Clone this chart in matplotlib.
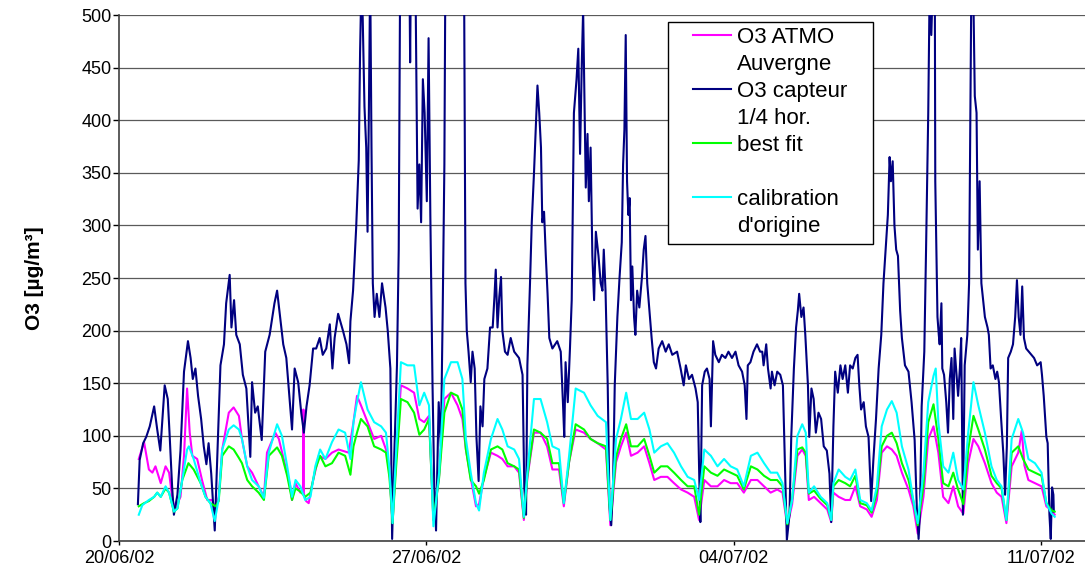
import numpy as np
import pandas as pd
import matplotlib
matplotlib.use('Agg')
import matplotlib.pyplot as plt
from matplotlib.lines import Line2D
from matplotlib.patches import Rectangle

plt.rcParams['font.family'] = ['Liberation Sans', 'DejaVu Sans']

# time in days since 20/06/02 00:00, values in ug/m3
t_atmo = [0.45, 0.57, 0.68, 0.76, 0.83, 0.95, 1.06, 1.14, 1.21, 1.27,
          1.40, 1.48, 1.55, 1.61, 1.67, 1.78, 1.89, 2.01, 2.12, 2.20,
          2.27, 2.35, 2.50, 2.61, 2.73, 2.80, 2.92, 3.03, 3.18, 3.30,
          3.37, 3.56, 3.64, 3.79, 3.90, 3.94, 4.02, 4.13, 4.19, 4.20,
          4.21, 4.26, 4.32, 4.39, 4.55, 4.70, 4.85, 5.00, 5.23, 5.34,
          5.42, 5.51, 5.66, 5.81, 5.97, 6.08, 6.16, 6.23, 6.31, 6.42,
          6.57, 6.72, 6.84, 6.95, 7.06, 7.16, 7.29, 7.41, 7.56, 7.71,
          7.82, 7.90, 8.01, 8.13, 8.20, 8.31, 8.47, 8.62, 8.73, 8.85,
          9.00, 9.11, 9.22, 9.30, 9.45, 9.60, 9.75, 9.87, 10.02, 10.13,
          10.25, 10.40, 10.59, 10.74, 10.90, 11.09, 11.19, 11.32, 11.43, 11.55,
          11.66, 11.81, 11.96, 12.08, 12.19, 12.34, 12.49, 12.64, 12.80, 12.95,
          13.10, 13.21, 13.33, 13.48, 13.63, 13.78, 13.93, 14.08, 14.23, 14.39,
          14.54, 14.69, 14.84, 14.99, 15.11, 15.22, 15.33, 15.45, 15.56, 15.64,
          15.71, 15.83, 15.98, 16.13, 16.22, 16.27, 16.39, 16.54, 16.65, 16.77,
          16.88, 17.03, 17.14, 17.26, 17.37, 17.49, 17.60, 17.71, 17.83, 17.98,
          18.09, 18.19, 18.32, 18.43, 18.55, 18.66, 18.77, 18.89, 19.00, 19.11,
          19.23, 19.34, 19.46, 19.57, 19.72, 19.87, 19.99, 20.10, 20.21, 20.33,
          20.48, 20.56, 20.62, 20.71, 20.86, 21.01, 21.12, 21.24, 21.31]
o3_atmo = [78, 94, 68, 65, 71, 55, 71, 65, 42, 30,
           42, 81, 145, 103, 81, 78, 58, 39, 39, 30,
           42, 87, 122, 127, 119, 97, 71, 65, 52, 42,
           84, 103, 97, 71, 52, 39, 55, 46, 48, 125,
           45, 38, 36, 52, 81, 78, 84, 87, 84, 113,
           138, 129, 113, 97, 100, 87, 65, 17, 80, 148,
           145, 141, 116, 113, 119, 20, 62, 135, 141, 129,
           116, 87, 60, 33, 35, 60, 84, 81, 78, 71,
           71, 65, 20, 60, 103, 103, 90, 68, 68, 33,
           75, 106, 103, 97, 93, 87, 15, 75, 90, 103,
           81, 84, 90, 74, 58, 61, 61, 55, 49, 46,
           42, 20, 58, 52, 52, 58, 55, 55, 46, 58,
           58, 52, 46, 49, 46, 14, 35, 81, 87, 81,
           39, 42, 36, 30, 18, 46, 42, 39, 39, 52,
           33, 30, 23, 39, 84, 90, 87, 81, 65, 49,
           33, 7, 42, 97, 109, 84, 42, 36, 52, 33,
           26, 74, 97, 90, 74, 55, 46, 42, 17, 71,
           84, 105, 72, 58, 55, 52, 33, 29, 25]

t_capteur = [0.43, 0.47, 0.55, 0.62, 0.70, 0.80, 0.87, 0.94, 1.04, 1.11,
             1.15, 1.21, 1.25, 1.33, 1.40, 1.48, 1.57, 1.63, 1.68, 1.74,
             1.80, 1.87, 1.93, 1.99, 2.04, 2.10, 2.18, 2.25, 2.31, 2.39,
             2.44, 2.52, 2.56, 2.62, 2.67, 2.75, 2.82, 2.90, 2.99, 3.03,
             3.10, 3.16, 3.25, 3.33, 3.43, 3.54, 3.60, 3.66, 3.74, 3.81,
             3.89, 3.94, 4.00, 4.08, 4.15, 4.21, 4.27, 4.34, 4.42, 4.49,
             4.57, 4.64, 4.72, 4.80, 4.86, 4.91, 4.99, 5.10, 5.18, 5.24,
             5.27, 5.33, 5.40, 5.46, 5.49, 5.52, 5.55, 5.59, 5.63, 5.66,
             5.69, 5.72, 5.75, 5.78, 5.82, 5.87, 5.93, 5.99, 6.07, 6.12,
             6.18, 6.22, 6.27, 6.33, 6.37, 6.40, 6.45, 6.54, 6.61, 6.63,
             6.65, 6.75, 6.80, 6.84, 6.88, 6.92, 6.96, 7.01, 7.05, 7.09,
             7.14, 7.18, 7.22, 7.28, 7.33, 7.37, 7.41, 7.43, 7.55, 7.70,
             7.86, 7.89, 7.92, 7.96, 8.01, 8.05, 8.10, 8.14, 8.19, 8.23,
             8.28, 8.32, 8.39, 8.45, 8.51, 8.55, 8.58, 8.62, 8.66, 8.70,
             8.73, 8.79, 8.85, 8.92, 9.00, 9.11, 9.19, 9.23, 9.27, 9.30,
             9.36, 9.40, 9.45, 9.49, 9.53, 9.57, 9.61, 9.64, 9.68, 9.72,
             9.76, 9.80, 9.87, 9.98, 10.06, 10.11, 10.14, 10.17, 10.22, 10.27,
             10.31, 10.36, 10.42, 10.46, 10.50, 10.54, 10.57, 10.60, 10.63, 10.67,
             10.70, 10.74, 10.78, 10.82, 10.86, 10.92, 10.97, 11.01, 11.04, 11.08,
             11.13, 11.17, 11.21, 11.25, 11.29, 11.35, 11.40, 11.45, 11.48, 11.51,
             11.54, 11.57, 11.60, 11.63, 11.66, 11.69, 11.73, 11.76, 11.80, 11.85,
             11.91, 11.95, 11.99, 12.03, 12.08, 12.13, 12.18, 12.23, 12.29, 12.37,
             12.45, 12.52, 12.60, 12.71, 12.79, 12.86, 12.91, 12.98, 13.05, 13.13,
             13.18, 13.22, 13.24, 13.28, 13.34, 13.39, 13.45, 13.48, 13.53, 13.58,
             13.66, 13.73, 13.81, 13.88, 13.96, 14.04, 14.11, 14.19, 14.25, 14.29,
             14.32, 14.38, 14.45, 14.53, 14.60, 14.65, 14.68, 14.74, 14.78, 14.84,
             14.87, 14.93, 14.99, 15.06, 15.12, 15.16, 15.19, 15.21, 15.27, 15.31,
             15.37, 15.42, 15.46, 15.49, 15.54, 15.59, 15.63, 15.69, 15.72, 15.77,
             15.82, 15.87, 15.93, 15.99, 16.05, 16.12, 16.18, 16.22, 16.27, 16.31,
             16.37, 16.43, 16.48, 16.54, 16.60, 16.65, 16.71, 16.77, 16.82, 16.86,
             16.90, 16.96, 17.01, 17.07, 17.13, 17.18, 17.24, 17.30, 17.36, 17.41,
             17.46, 17.51, 17.55, 17.58, 17.62, 17.66, 17.70, 17.74, 17.79, 17.83,
             17.90, 17.98, 18.05, 18.12, 18.17, 18.21, 18.24, 18.28, 18.34, 18.38,
             18.43, 18.46, 18.50, 18.54, 18.58, 18.59, 18.64, 18.67, 18.69, 18.73,
             18.75, 18.79, 18.84, 18.88, 18.92, 18.96, 19.00, 19.03, 19.07, 19.11,
             19.15, 19.18, 19.22, 19.26, 19.32, 19.36, 19.39, 19.41, 19.45, 19.49,
             19.53, 19.56, 19.60, 19.64, 19.68, 19.72, 19.78, 19.81, 19.85, 19.90,
             19.96, 20.00, 20.04, 20.09, 20.14, 20.18, 20.22, 20.25, 20.31, 20.36,
             20.41, 20.45, 20.49, 20.53, 20.57, 20.61, 20.66, 20.72, 20.78, 20.84,
             20.91, 20.99, 21.02, 21.06, 21.12, 21.15, 21.19, 21.22, 21.25, 21.28,
             21.29]
o3_capteur = [35, 77, 93, 99, 109, 128, 106, 86, 148, 135,
              103, 51, 25, 44, 86, 161, 190, 174, 154, 164,
              138, 116, 90, 73, 93, 64, 10, 96, 167, 187,
              226, 253, 203, 229, 196, 187, 158, 145, 80, 151,
              122, 128, 96, 180, 196, 226, 238, 216, 187, 174,
              132, 106, 164, 151, 122, 103, 128, 148, 183, 183,
              193, 177, 183, 206, 164, 193, 216, 200, 187, 169,
              209, 238, 297, 362, 465, 530, 497, 413, 374, 294,
              407, 540, 374, 245, 213, 235, 213, 245, 222, 200,
              164, 2, 83, 167, 277, 520, 600, 620, 560, 455,
              560, 540, 316, 358, 303, 439, 407, 323, 478, 310,
              148, 51, 10, 132, 90, 213, 358, 520, 650, 640,
              520, 245, 200, 180, 151, 180, 164, 99, 57, 128,
              109, 154, 164, 203, 203, 232, 258, 203, 232, 251,
              200, 180, 177, 193, 180, 174, 158, 51, 25, 167,
              245, 303, 349, 391, 433, 407, 374, 303, 313, 271,
              235, 193, 183, 190, 180, 132, 99, 170, 132, 183,
              229, 407, 439, 468, 368, 455, 505, 423, 336, 387,
              323, 374, 271, 229, 294, 271, 245, 238, 277, 238,
              148, 35, 15, 51, 148, 213, 251, 284, 358, 391,
              481, 342, 310, 326, 229, 261, 213, 196, 238, 222,
              251, 277, 290, 245, 219, 193, 170, 164, 183, 190,
              180, 187, 177, 180, 164, 148, 167, 154, 158, 145,
              132, 51, 18, 148, 161, 164, 154, 109, 190, 177,
              170, 177, 174, 180, 174, 180, 167, 161, 148, 116,
              167, 170, 180, 187, 180, 180, 167, 187, 164, 145,
              161, 148, 161, 158, 148, 83, 35, 1, 25, 99,
              164, 203, 219, 235, 213, 222, 196, 148, 99, 145,
              135, 103, 122, 116, 90, 86, 64, 18, 109, 161,
              141, 167, 154, 167, 141, 167, 164, 174, 177, 148,
              125, 132, 109, 99, 38, 77, 116, 164, 196, 245,
              277, 310, 365, 342, 361, 300, 277, 271, 219, 193,
              167, 161, 132, 96, 31, 2, 25, 128, 180, 277,
              407, 520, 481, 540, 520, 342, 213, 196, 187, 226,
              164, 158, 132, 103, 154, 174, 116, 183, 161, 138,
              164, 193, 25, 167, 196, 245, 407, 520, 540, 423,
              407, 277, 342, 245, 229, 213, 203, 196, 164, 167,
              154, 161, 151, 116, 83, 44, 90, 174, 180, 187,
              213, 248, 213, 196, 242, 193, 183, 180, 177, 174,
              167, 170, 158, 138, 99, 93, 25, 2, 51, 44,
              28]

t_fit = [0.45, 0.57, 0.68, 0.80, 0.87, 0.95, 1.06, 1.14, 1.25, 1.33,
         1.44, 1.58, 1.70, 1.86, 1.97, 2.08, 2.20, 2.27, 2.35, 2.50,
         2.61, 2.73, 2.80, 2.92, 3.03, 3.18, 3.30, 3.41, 3.60, 3.71,
         3.83, 3.94, 4.02, 4.13, 4.24, 4.36, 4.47, 4.58, 4.70, 4.85,
         5.00, 5.15, 5.27, 5.34, 5.42, 5.51, 5.66, 5.81, 5.97, 6.08,
         6.16, 6.23, 6.31, 6.42, 6.57, 6.72, 6.84, 6.95, 7.06, 7.16,
         7.29, 7.41, 7.56, 7.71, 7.82, 7.90, 8.01, 8.13, 8.20, 8.31,
         8.47, 8.62, 8.73, 8.85, 9.00, 9.11, 9.22, 9.30, 9.45, 9.60,
         9.75, 9.87, 10.02, 10.13, 10.25, 10.40, 10.59, 10.74, 10.90, 11.09,
         11.19, 11.32, 11.43, 11.55, 11.66, 11.81, 11.96, 12.08, 12.19, 12.34,
         12.49, 12.64, 12.80, 12.95, 13.10, 13.21, 13.33, 13.48, 13.63, 13.78,
         13.93, 14.08, 14.23, 14.39, 14.54, 14.69, 14.84, 14.99, 15.11, 15.22,
         15.33, 15.45, 15.56, 15.64, 15.71, 15.83, 15.98, 16.13, 16.22, 16.27,
         16.39, 16.54, 16.65, 16.77, 16.88, 17.03, 17.14, 17.26, 17.37, 17.49,
         17.60, 17.71, 17.83, 17.98, 18.09, 18.19, 18.32, 18.43, 18.55, 18.66,
         18.77, 18.89, 19.00, 19.11, 19.23, 19.34, 19.46, 19.57, 19.72, 19.87,
         19.99, 20.10, 20.21, 20.33, 20.48, 20.59, 20.71, 20.86, 21.01, 21.12,
         21.24, 21.31]
o3_fit = [33, 36, 38, 42, 46, 42, 50, 46, 28, 31,
          58, 74, 68, 55, 42, 36, 33, 38, 81, 90,
          87, 79, 74, 58, 52, 46, 39, 81, 89, 81,
          62, 39, 50, 47, 42, 46, 68, 81, 71, 74,
          84, 81, 63, 90, 103, 116, 109, 90, 87, 84,
          60, 17, 70, 135, 132, 122, 101, 106, 116, 20,
          60, 122, 141, 138, 125, 87, 58, 52, 45, 58,
          87, 90, 87, 74, 71, 68, 22, 62, 106, 103,
          97, 74, 74, 36, 75, 111, 106, 97, 93, 90,
          20, 80, 97, 111, 90, 90, 97, 81, 65, 71,
          71, 65, 58, 52, 52, 25, 71, 65, 62, 68,
          65, 62, 49, 71, 68, 62, 58, 58, 52, 16,
          40, 87, 89, 84, 45, 48, 40, 34, 20, 52,
          58, 55, 52, 62, 36, 34, 27, 46, 90, 100,
          103, 93, 74, 58, 38, 15, 52, 113, 130, 97,
          55, 52, 65, 49, 35, 87, 119, 106, 87, 62,
          55, 50, 20, 84, 90, 78, 68, 65, 62, 36,
          29, 28]

t_calib = [0.45, 0.53, 0.68, 0.80, 0.87, 0.95, 1.06, 1.14, 1.25, 1.33,
           1.44, 1.55, 1.59, 1.70, 1.86, 1.97, 2.08, 2.18, 2.27, 2.35,
           2.50, 2.61, 2.73, 2.80, 2.92, 3.03, 3.18, 3.30, 3.41, 3.60,
           3.71, 3.83, 3.94, 4.02, 4.13, 4.24, 4.36, 4.47, 4.58, 4.70,
           4.85, 5.00, 5.15, 5.27, 5.34, 5.42, 5.51, 5.66, 5.81, 5.97,
           6.08, 6.16, 6.23, 6.31, 6.42, 6.57, 6.72, 6.84, 6.95, 7.06,
           7.16, 7.29, 7.41, 7.56, 7.71, 7.82, 7.90, 8.01, 8.13, 8.20,
           8.31, 8.47, 8.62, 8.73, 8.85, 9.00, 9.11, 9.22, 9.30, 9.45,
           9.60, 9.75, 9.87, 10.02, 10.13, 10.25, 10.40, 10.59, 10.74, 10.90,
           11.09, 11.19, 11.32, 11.43, 11.55, 11.66, 11.81, 11.96, 12.08, 12.19,
           12.34, 12.49, 12.64, 12.80, 12.95, 13.10, 13.21, 13.33, 13.48, 13.63,
           13.78, 13.93, 14.08, 14.23, 14.39, 14.54, 14.69, 14.84, 14.99, 15.11,
           15.22, 15.33, 15.45, 15.56, 15.64, 15.71, 15.83, 15.98, 16.13, 16.22,
           16.27, 16.39, 16.54, 16.65, 16.77, 16.88, 17.03, 17.14, 17.26, 17.37,
           17.49, 17.60, 17.71, 17.83, 17.98, 18.09, 18.19, 18.32, 18.43, 18.55,
           18.60, 18.66, 18.77, 18.89, 19.00, 19.11, 19.23, 19.34, 19.46, 19.57,
           19.72, 19.87, 19.99, 20.10, 20.21, 20.33, 20.48, 20.59, 20.71, 20.86,
           21.01, 21.12, 21.24, 21.31]
o3_calib = [25, 34, 39, 42, 46, 42, 52, 46, 28, 31,
            58, 87, 90, 78, 55, 42, 36, 19, 40, 87,
            106, 110, 106, 97, 71, 58, 52, 41, 84, 111,
            100, 71, 42, 58, 52, 39, 42, 71, 87, 78,
            94, 106, 103, 78, 113, 132, 151, 125, 113, 109,
            103, 68, 17, 84, 170, 167, 167, 129, 141, 129,
            14, 65, 154, 170, 170, 154, 97, 65, 36, 29,
            65, 97, 116, 106, 90, 87, 78, 23, 65, 135,
            135, 113, 90, 87, 36, 81, 145, 141, 129, 119,
            113, 20, 97, 116, 141, 116, 116, 122, 106, 84,
            90, 93, 84, 71, 61, 58, 39, 87, 81, 71,
            78, 71, 68, 52, 81, 84, 74, 65, 65, 55,
            17, 39, 100, 111, 103, 46, 52, 42, 36, 20,
            55, 68, 61, 58, 68, 39, 36, 29, 52, 109,
            125, 133, 122, 90, 68, 39, 17, 65, 132, 157,
            164, 113, 71, 65, 84, 58, 49, 103, 151, 129,
            103, 71, 58, 52, 20, 97, 116, 103, 78, 74,
            65, 36, 26, 23]

tick_days = [0, 7, 14, 21]
tick_labels = ['20/06/02', '27/06/02', '04/07/02', '11/07/02']

start = pd.Timestamp('2002-06-20')


def to_dates(days):
    return start + pd.to_timedelta(np.array(days, dtype=float), unit='D')


fig = plt.figure(figsize=(10.85, 5.83), dpi=100)
ax = fig.add_axes([0.1097, 0.072, 0.8903, 0.9022])

l_atmo, = ax.plot(to_dates(t_atmo), o3_atmo, color='#FF00FF', lw=1.5)
l_capt, = ax.plot(to_dates(t_capteur), o3_capteur, color='#000080', lw=1.5)
l_fit, = ax.plot(to_dates(t_fit), o3_fit, color='#00FF00', lw=1.5)
l_cal, = ax.plot(to_dates(t_calib), o3_calib, color='#00FFFF', lw=1.5)

ax.set_ylim(0, 500)
ax.set_xlim(start, start + pd.Timedelta(days=22))
ax.set_yticks(np.arange(0, 501, 50))
ax.set_xticks(to_dates(tick_days))
ax.set_xticklabels(tick_labels)

ax.set_axisbelow(True)
ax.yaxis.grid(True, color='#5a5a5a', lw=0.9)
for s in ['top', 'right']:
    ax.spines[s].set_visible(False)
for s in ['left', 'bottom']:
    ax.spines[s].set_color('#404040')
    ax.spines[s].set_linewidth(1.2)
ax.tick_params(axis='both', direction='out', width=1, labelsize=13)
ax.tick_params(axis='x', length=3, pad=3.5)
ax.tick_params(axis='y', length=4, pad=1.5)

ax.set_ylabel('O3 [µg/m³]', fontsize=15, fontweight='bold')
ax.yaxis.set_label_coords(-0.078, 0.5)

# legend frame drawn separately (wider side padding than matplotlib allows)
ax.add_patch(Rectangle((0.568, 0.5646), 0.2123, 0.4221, transform=ax.transAxes,
                       facecolor='white', edgecolor='black', lw=1.0, zorder=4.9))
blank = Line2D([], [], linestyle='none')
handles = [l_atmo, blank, l_capt, blank, l_fit, blank, l_cal, blank]
labels = ['O3 ATMO', 'Auvergne', 'O3 capteur', '1/4 hor.',
          'best fit', ' ', 'calibration', "d'origine"]
leg = ax.legend(handles, labels, loc='upper left',
                bbox_to_anchor=(0.594, 0.977), borderaxespad=0,
                frameon=False, fontsize=16, handlelength=1.7,
                handletextpad=0.3, labelspacing=0.27, borderpad=0)

fig.savefig('out.png', dpi=100)
